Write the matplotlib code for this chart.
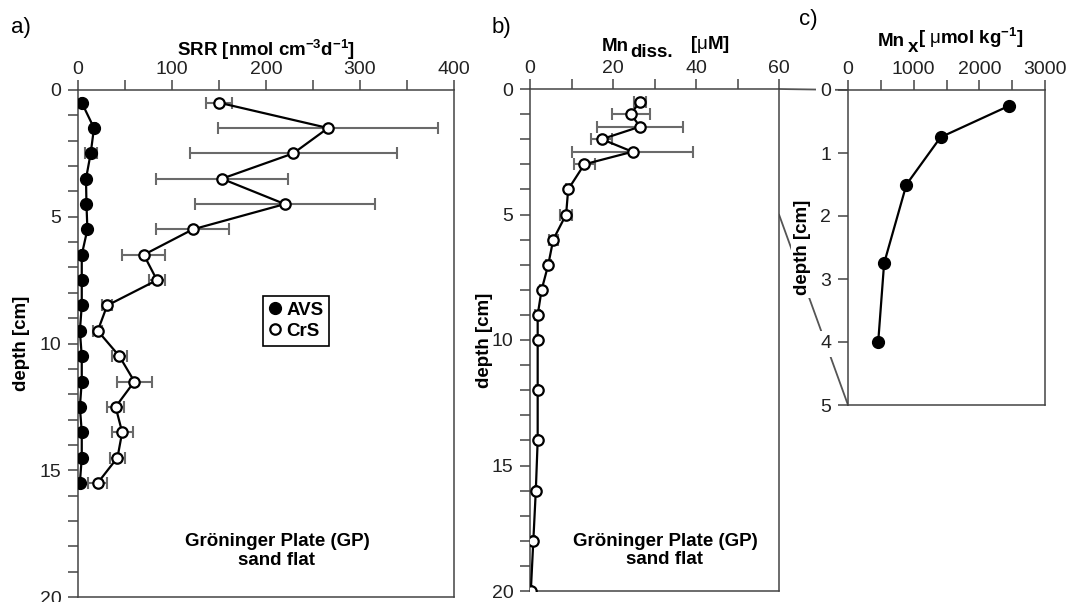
import matplotlib
matplotlib.use("Agg")
import matplotlib.pyplot as plt
from matplotlib.ticker import MultipleLocator
from matplotlib.patches import ConnectionPatch
from matplotlib.lines import Line2D

plt.rcParams['font.family'] = ['Liberation Sans', 'DejaVu Sans']
plt.rcParams['mathtext.fontset'] = 'custom'
plt.rcParams['mathtext.rm'] = 'Liberation Sans'
plt.rcParams['mathtext.bf'] = 'Liberation Sans:bold'
plt.rcParams['mathtext.it'] = 'Liberation Sans:italic'
plt.rcParams['mathtext.default'] = 'bf'

# --- a) sulfate reduction rates ---
srr_depth = [0.5, 1.5, 2.5, 3.5, 4.5, 5.5, 6.5, 7.5, 8.5, 9.5, 10.5, 11.5, 12.5, 13.5, 14.5, 15.5]
avs_rate = [4, 17, 13.5, 8.5, 9, 10, 4, 4, 4, 2, 4, 4, 2, 4, 4, 2]
avs_err = [1, 2, 6.5, 1, 1, 1, 0.5, 0.5, 0.5, 0.5, 0.5, 0.5, 0.5, 0.5, 0.5, 0.5]
crs_rate = [150, 266, 229, 153, 220, 122, 70, 84, 31, 21, 44, 60, 40, 47, 42, 21]
crs_err = [14, 117, 110, 70, 96, 39, 23, 9, 5, 5, 8, 19, 9, 11, 8, 10]

# --- b) dissolved manganese ---
mn_depth = [0.5, 1, 1.5, 2, 2.5, 3, 4, 5, 6, 7, 8, 9, 10, 12, 14, 16, 18, 20]
mn_diss = [26.5, 24.3, 26.5, 17.3, 24.7, 13.1, 9.2, 8.7, 5.6, 4.4, 2.8, 1.85, 1.85, 1.85, 1.85, 1.4, 0.8, 0.2]
mn_err = [1.5, 4.5, 10.3, 2.5, 14.5, 2.5, 0.5, 1.5, 1.1, 0.6, 0.4, 0.6, 0.3, 0.3, 0.3, 0.3, 0.3, 0.2]

# --- c) solid-phase manganese ---
mnx_depth = [0.25, 0.75, 1.5, 2.75, 4.0]
mnx = [2455, 1410, 890, 550, 460]

SPINE = '#444444'
ERRC = '#6a6a6a'
TICKFS = 14
BOLDFS = 13.5

W, H = 1066, 602
fig = plt.figure(figsize=(W / 100, H / 100), dpi=100)


def box(l, t, r, b):
    return [l / W, 1 - b / H, (r - l) / W, (b - t) / H]


def style(ax):
    for s in ax.spines.values():
        s.set_color(SPINE)
        s.set_linewidth(1.1)
    ax.xaxis.tick_top()
    ax.xaxis.set_label_position('top')
    ax.tick_params(which='both', direction='out', length=7, width=1.1,
                   color=SPINE, labelsize=TICKFS, labelcolor='#222222')
    ax.tick_params(axis='x', which='both', pad=1.5)
    ax.tick_params(axis='y', which='both', pad=5)


def chained_title(ax, x, y, pieces):
    """Write a label from pieces; each piece is (text, dx_pt, dy_pt) relative
    to the right edge of the previous piece and the bottom of the first."""
    first = ax.annotate(pieces[0][0], xy=(x, y), xycoords='axes fraction',
                        ha='left', va='bottom', fontsize=BOLDFS, fontweight='bold',
                        annotation_clip=False)
    prev = first
    for text, dx, dy in pieces[1:]:
        prev = ax.annotate(text, xy=(1, 0), xycoords=(prev, first),
                           xytext=(dx, dy), textcoords='offset points',
                           ha='left', va='bottom', fontsize=BOLDFS, fontweight='bold',
                           annotation_clip=False)


axa = fig.add_axes(box(78, 90, 454, 597))
axb = fig.add_axes(box(530, 89, 779, 591))
axc = fig.add_axes(box(848, 90, 1045, 405))

# panel a
axa.errorbar(avs_rate, srr_depth, xerr=avs_err, fmt='none', ecolor=ERRC,
             elinewidth=1.5, capsize=4, capthick=1.5, zorder=1)
axa.errorbar(crs_rate, srr_depth, xerr=crs_err, fmt='none', ecolor=ERRC,
             elinewidth=1.5, capsize=4, capthick=1.5, zorder=1)
axa.plot(avs_rate, srr_depth, color='black', lw=1.6, marker='o', ms=8.5,
         mfc='black', mec='black', zorder=3)
axa.plot(crs_rate, srr_depth, color='black', lw=1.6, marker='o', ms=7.5,
         mfc='white', mec='black', mew=1.6, zorder=3)
axa.set_xlim(0, 400)
axa.set_ylim(20, 0)
axa.xaxis.set_major_locator(MultipleLocator(100))
axa.xaxis.set_minor_locator(MultipleLocator(50))
axa.yaxis.set_major_locator(MultipleLocator(5))
axa.yaxis.set_minor_locator(MultipleLocator(1))
style(axa)
axa.set_xlabel(r'SRR [nmol cm$^{-3}$d$^{-1}$]', fontsize=BOLDFS, fontweight='bold', labelpad=4)
axa.set_ylabel('depth [cm]', fontsize=BOLDFS, fontweight='bold')
axa.yaxis.set_label_coords(-0.128, 0.5)
handles = [Line2D([], [], ls='none', marker='o', ms=8.5, mfc='black', mec='black'),
           Line2D([], [], ls='none', marker='o', ms=7.5, mfc='white', mec='black', mew=1.6)]
leg = axa.legend(handles, ['AVS', 'CrS'], loc='upper left', bbox_to_anchor=(0.493, 0.594),
                 frameon=True, fancybox=False, framealpha=1, edgecolor='black',
                 handlelength=0.6, handletextpad=0.3, borderpad=0.32, labelspacing=0.2,
                 borderaxespad=0, prop={'weight': 'bold', 'size': 13.5})
leg.get_frame().set_linewidth(1.2)
axa.text(0.529, 0.091, 'Gröninger Plate (GP)\nsand flat', transform=axa.transAxes,
         ha='center', va='center', fontsize=BOLDFS, fontweight='bold', linespacing=1.1)

# panel b
axb.errorbar(mn_diss, mn_depth, xerr=mn_err, fmt='none', ecolor=ERRC,
             elinewidth=1.5, capsize=4, capthick=1.5, zorder=1)
axb.plot(mn_diss, mn_depth, color='black', lw=1.6, marker='o', ms=7.5,
         mfc='white', mec='black', mew=1.6, zorder=3)
axb.set_xlim(0, 60)
axb.set_ylim(20, 0)
axb.xaxis.set_major_locator(MultipleLocator(20))
axb.xaxis.set_minor_locator(MultipleLocator(10))
axb.yaxis.set_major_locator(MultipleLocator(5))
axb.yaxis.set_minor_locator(MultipleLocator(1))
style(axb)
chained_title(axb, 0.289, 1.068, [('Mn', 0, 0),
                                   ('diss.', 1, -4.5),
                                   (r'[$\mathrm{\mu}$M]', 12, 0)])
axb.set_ylabel('depth [cm]', fontsize=BOLDFS, fontweight='bold')
axb.yaxis.set_label_coords(-0.149, 0.5)
axb.text(0.542, 0.080, 'Gröninger Plate (GP)\nsand flat', transform=axb.transAxes,
         ha='center', va='center', fontsize=BOLDFS, fontweight='bold', linespacing=1.1)

# panel c
axc.plot(mnx, mnx_depth, color='black', lw=1.6, marker='o', ms=8.5,
         mfc='black', mec='black', zorder=3)
axc.set_xlim(0, 3000)
axc.set_ylim(5, 0)
axc.xaxis.set_major_locator(MultipleLocator(1000))
axc.xaxis.set_minor_locator(MultipleLocator(500))
axc.yaxis.set_major_locator(MultipleLocator(1))
style(axc)
chained_title(axc, 0.152, 1.127, [('Mn', 0, 0),
                                   ('x', 2, -4.5),
                                   (r'[ $\mathrm{\mu}$mol kg$^{-1}$]', 0, 0)])
ylab = axc.set_ylabel('depth [cm]', fontsize=BOLDFS, fontweight='bold')
axc.yaxis.set_label_coords(-0.188, 0.5)
ylab.set_bbox(dict(facecolor='white', edgecolor='none', pad=2))
for lbl in axc.get_yticklabels():
    lbl.set_bbox(dict(facecolor='white', edgecolor='none', pad=3))

# zoom lines linking the 0-5 cm interval of b) to c)
for d in (0, 5):
    con = ConnectionPatch(xyA=(60, d), coordsA=axb.transData,
                          xyB=(0, d), coordsB=axc.transData,
                          color='#555555', lw=1.3, zorder=-1)
    fig.add_artist(con)

fig.text(11 / W, 1 - 28 / H, 'a)', fontsize=16, va='center', ha='left')
fig.text(492 / W, 1 - 27 / H, 'b)', fontsize=16, va='center', ha='left')
fig.text(799 / W, 1 - 20 / H, 'c)', fontsize=16, va='center', ha='left')

fig.savefig('out.png', dpi=100)
